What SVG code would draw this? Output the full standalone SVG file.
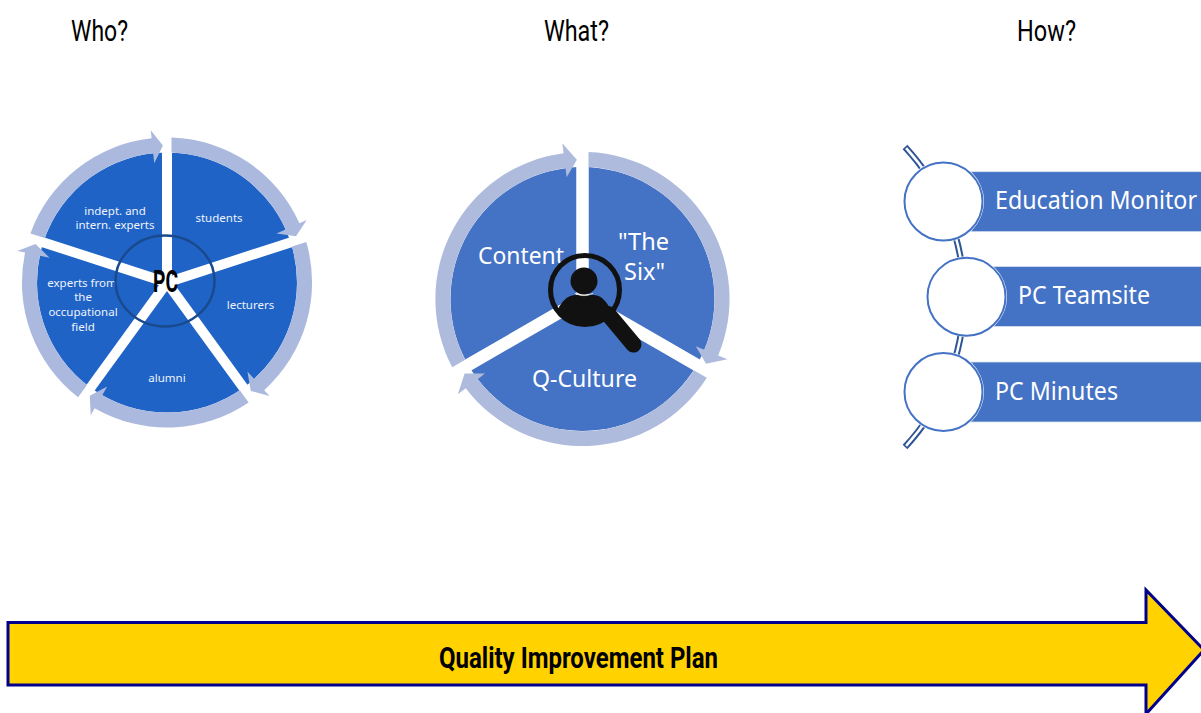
<svg xmlns="http://www.w3.org/2000/svg" width="1201" height="713" viewBox="0 0 1201 713">
<style>
.h{font-family:"Roboto","Liberation Sans",sans-serif;font-size:30px;fill:#000}
.w{font-family:"Noto Sans","Open Sans",sans-serif;fill:#fff}
.s{font-size:11.5px;text-anchor:middle;fill:#eef3fb}
.m{font-size:24px}
.b{font-size:25px}
.ring{fill:#abb9df}
.ring2{fill:#aebbdd}
.spoke{stroke:#fff;stroke-width:10;fill:none}
.spoke2{stroke:#fff;stroke-width:12.5;fill:none}
.bar{fill:#4472c4;stroke:#dbe3f3;stroke-width:.8}
.halo{fill:#fff}
.disc{fill:#fff;stroke:#4472c4;stroke-width:2}
</style>
<defs>
<path id="w5" fill="#1f63c7" d="M0,0V-130A130,130 0 0 1 123.6,-40.2Z"/>
<path id="a5" class="ring" d="M4.500,-145A145,145 0 0 1 132.400,-59.200L139.700,-62.500L129,-46.200L109.500,-49L118.700,-53.100A130,130 0 0 0 4.500,-130Z"/>
<path id="w3" fill="#4472c4" d="M0,0V-132A132,132 0 0 1 114.300,66Z"/>
<path id="a3" class="ring2" d="M6,-147A147,147 0 0 1 135.700,56.500L144.900,60.300L123.500,64.800L113.300,47.200L121.900,50.700A132,132 0 0 0 6,-132Z"/>
</defs>
<g id="titles">
<text class="h" x="71" y="41" textLength="57" lengthAdjust="spacingAndGlyphs">Who?</text>
<text class="h" x="544" y="41" textLength="65" lengthAdjust="spacingAndGlyphs">What?</text>
<text class="h" x="1017" y="41" textLength="59" lengthAdjust="spacingAndGlyphs">How?</text>
</g>
<g transform="translate(167 282.500)">
<g id="who-students"><use href="#w5"/></g>
<g id="who-lecturers" transform="rotate(72)"><use href="#w5"/></g>
<g id="who-alumni" transform="rotate(144)"><use href="#w5"/></g>
<g id="who-field" transform="rotate(216)"><use href="#w5"/></g>
<g id="who-experts" transform="rotate(288)"><use href="#w5"/></g>
</g>
<g transform="translate(582.500 299)">
<g id="what-six"><use href="#w3"/></g>
<g id="what-culture" transform="rotate(120)"><use href="#w3"/></g>
<g id="what-content" transform="rotate(240)"><use href="#w3"/></g>
</g>
<g id="connectors">
<g transform="translate(167 282.500)">
<path class="spoke" d="M0,0V-146"/>
<path class="spoke" d="M0,0V-146" transform="rotate(72)"/>
<path class="spoke" d="M0,0V-146" transform="rotate(144)"/>
<path class="spoke" d="M0,0V-146" transform="rotate(216)"/>
<path class="spoke" d="M0,0V-146" transform="rotate(288)"/>
<use href="#a5"/><use href="#a5" transform="rotate(72)"/><use href="#a5" transform="rotate(144)"/><use href="#a5" transform="rotate(216)"/><use href="#a5" transform="rotate(288)"/>
</g>
<g transform="translate(582.500 299)">
<path class="spoke2" d="M0,0V-150"/>
<path class="spoke2" d="M0,0V-150" transform="rotate(120)"/>
<path class="spoke2" d="M0,0V-150" transform="rotate(240)"/>
<use href="#a3"/><use href="#a3" transform="rotate(120)"/><use href="#a3" transform="rotate(240)"/>
</g>
<path d="M905,147A220,220 0 0 1 905,447" fill="none" stroke="#2f5597" stroke-width="6.500"/>
<path d="M905,147A220,220 0 0 1 905,447" fill="none" stroke="#fff" stroke-width="2.500" pathLength="100" stroke-dasharray="99 100" stroke-dashoffset="-0.500"/>
</g>
<g id="who-labels">
<text class="w s" x="115" y="215">indept. and</text>
<text class="w s" x="115" y="229">intern. experts</text>
<text class="w s" x="219" y="222">students</text>
<text class="w s" x="250.500" y="309">lecturers</text>
<text class="w s" x="167" y="382">alumni</text>
<text class="w s" x="82" y="287">experts from</text>
<text class="w s" x="83" y="301">the</text>
<text class="w s" x="83" y="316">occupational</text>
<text class="w s" x="83" y="331">field</text>
</g>
<g id="who-centre">
<ellipse cx="165" cy="281" rx="49.500" ry="45.500" fill="none" stroke="#1a4a8e" stroke-width="2.500"/>
<text x="153" y="292" font-family="Roboto,'Liberation Sans',sans-serif" font-weight="700" font-size="31" fill="#000" textLength="25" lengthAdjust="spacingAndGlyphs">PC</text>
</g>
<g id="what-labels">
<text class="w m" x="478" y="264" textLength="86" lengthAdjust="spacingAndGlyphs">Content</text>
<text class="w m" x="618" y="250" textLength="51" lengthAdjust="spacingAndGlyphs">"The</text>
<text class="w m" x="624" y="280" textLength="41" lengthAdjust="spacingAndGlyphs">Six"</text>
<text class="w m" x="532" y="387" textLength="105" lengthAdjust="spacingAndGlyphs">Q-Culture</text>
</g>
<g id="magnifier">
<path d="M608,314L633.500,344.500" stroke="#111" stroke-width="16" stroke-linecap="round" fill="none"/>
<circle cx="585" cy="290" r="34.500" fill="none" stroke="#111" stroke-width="5"/>
<circle cx="584" cy="281" r="13.500" fill="#111"/>
<path fill="#111" d="M558,309C562,301 568,295 576,295L594,295C602,295 608,304 612,312A34,34 0 0 1 558,309Z"/>
<path d="M575,293.300Q584,298 593,293.300" fill="none" stroke="#ddd" stroke-width="1"/>
</g>
<g id="how-monitor">
<rect class="bar" x="940" y="171.700" width="262" height="60"/>
<circle class="halo" cx="943.500" cy="201.500" r="40.500"/>
<circle class="disc" cx="943.500" cy="201.500" r="39"/>
<text class="w b" x="995" y="209" textLength="202" lengthAdjust="spacingAndGlyphs">Education Monitor</text>
</g>
<g id="how-teamsite">
<rect class="bar" x="965" y="266.500" width="237" height="60"/>
<circle class="halo" cx="966.500" cy="296.700" r="40.500"/>
<circle class="disc" cx="966.500" cy="296.700" r="39"/>
<text class="w b" x="1018" y="304" textLength="132" lengthAdjust="spacingAndGlyphs">PC Teamsite</text>
</g>
<g id="how-minutes">
<rect class="bar" x="940" y="362" width="262" height="60"/>
<circle class="halo" cx="943.500" cy="392" r="40.500"/>
<circle class="disc" cx="943.500" cy="392" r="39"/>
<text class="w b" x="995" y="400" textLength="123" lengthAdjust="spacingAndGlyphs">PC Minutes</text>
</g>
<g id="plan">
<path d="M8,622.500H1146V590L1204,650L1146,714V685H8Z" fill="#ffd200" stroke="#00008b" stroke-width="3"/>
<text x="439" y="668" font-family="Roboto,'Liberation Sans',sans-serif" font-weight="700" font-size="29" fill="#000" textLength="279" lengthAdjust="spacingAndGlyphs">Quality Improvement Plan</text>
</g>
</svg>
